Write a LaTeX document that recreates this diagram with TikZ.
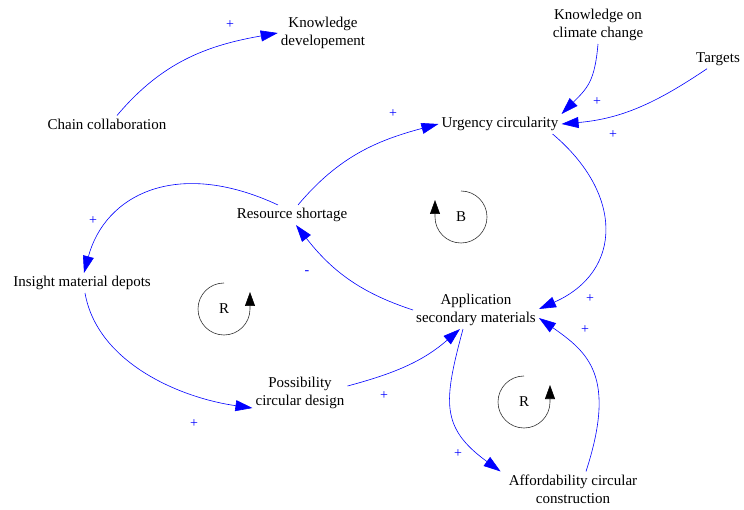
\documentclass[tikz,border=0pt]{standalone}
\usepackage{fontspec}
\setmainfont{Liberation Serif}
\usetikzlibrary{arrows.meta}

\tikzset{
  var/.style={align=center, inner sep=3pt, font=\fontsize{15}{18}\selectfont},
  link/.style={draw=blue, line width=0.6pt, -{Triangle[length=17pt,width=11pt]}},
  sign/.style={text=blue, inner sep=0pt, font=\fontsize{14}{14}\selectfont},
  loopname/.style={inner sep=0pt, font=\fontsize{15}{18}\selectfont},
  looparc/.style={draw=black!80, line width=0.6pt, -{Triangle[length=14pt,width=10pt,black]}}
}

\begin{document}
\begin{tikzpicture}[x=1pt, y=1pt]
\useasboundingbox (0,0) rectangle (744,509);

% Variables
\node[var] (kd) at (323,476) {Knowledge\\developement};
\node[var] (cc) at (107,385) {Chain collaboration};
\node[var] (kc) at (598,484) {Knowledge on\\climate change};
\node[var] (tg) at (718,450) {Targets};
\node[var] (uc) at (500,385) {Urgency circularity};
\node[var] (rs) at (292,294) {Resource shortage};
\node[var] (im) at (82,226) {Insight material depots};
\node[var] (pd) at (300,116) {Possibility\\circular design};
\node[var] (as) at (476,199) {Application\\secondary materials};
\node[var] (ac) at (573,20) {Affordability circular\\construction};

% Links
\draw[link] ([xshift=10pt]cc.north) to[out=50, in=190] (kd.west);
\draw[link] (kc.south) to[out=-95, in=45, looseness=1.2] (uc.north east);
\draw[link] ([xshift=-11pt]tg.south) to[out=-146, in=5] (uc.east);
\draw[link] ([xshift=6pt]rs.north) to[out=50, in=195] (uc.west);
\draw[link] ([xshift=-9pt]uc.south east) to[out=-40, in=24, looseness=1.35] ([yshift=1pt]as.east);
\draw[link] (as.west) to[out=162, in=-52] ([xshift=4pt]rs.south);
\draw[link] ([xshift=-14pt]rs.north) to[out=155, in=75, out looseness=1.4] ([xshift=2pt]im.north);
\draw[link] ([xshift=3pt]im.south) to[out=-80, in=172, looseness=0.9] ([yshift=4pt]pd.south west);
\draw[link] ([yshift=7pt]pd.east) to[out=15, in=-139] ([xshift=-16pt]as.south);
\draw[link] ([xshift=-13pt]as.south) to[out=-105, in=144, looseness=1.3] ([xshift=-5pt]ac.north west);
\draw[link] ([xshift=13pt]ac.north) to[out=72, in=-35, out looseness=1.6, in looseness=0.95] ([yshift=-8pt]as.east);

% Polarities
\node[sign] (s1) at (230,484) {+};
\node[sign] (s2) at (93,288) {+};
\node[sign] (s3) at (393,395) {+};
\node[sign] (s4) at (597,407) {+};
\node[sign] (s5) at (613,374) {+};
\node[sign] (s6) at (307,236) {-};
\node[sign] (s7) at (194,85) {+};
\node[sign] (s8) at (384,113) {+};
\node[sign] (s9) at (590,210) {+};
\node[sign] (s10) at (585,179) {+};
\node[sign] (s11) at (458,55) {+};

% Loops
\node[loopname] (lb) at (461,292) {B};
\draw[looparc] ([yshift=26pt]lb.center) arc[start angle=90, end angle=-180, radius=26pt] -- ++(0,17);
\node[loopname] (lr1) at (224,200) {R};
\draw[looparc] ([yshift=26pt]lr1.center) arc[start angle=90, end angle=360, radius=26pt] -- ++(0,17);
\node[loopname] (lr2) at (524,107) {R};
\draw[looparc] ([yshift=26pt]lr2.center) arc[start angle=90, end angle=360, radius=26pt] -- ++(0,17);
\end{tikzpicture}
\end{document}
